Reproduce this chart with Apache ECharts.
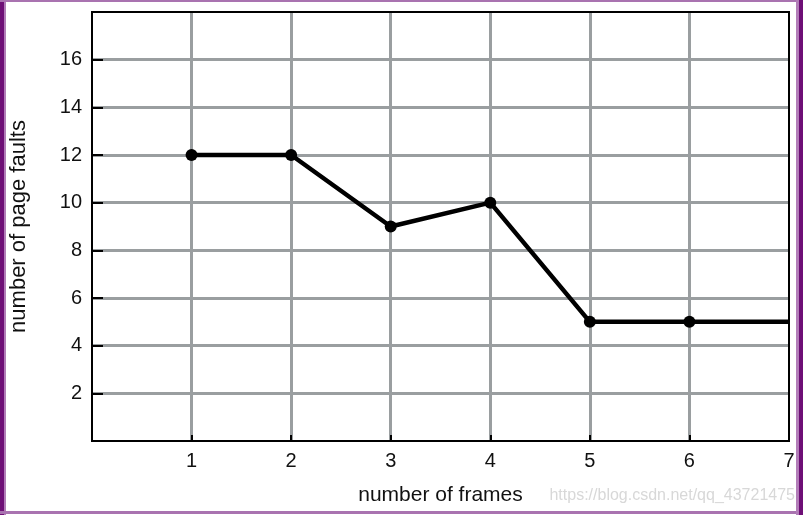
<!DOCTYPE html>
<html>
<head>
<meta charset="utf-8">
<script src="https://cdn.jsdelivr.net/npm/echarts@6/dist/echarts.min.js"></script>
<style>
html,body{margin:0;padding:0;background:#fff;}
#wrap{position:relative;width:803px;height:515px;overflow:hidden;background:#fff;}
#chart{position:absolute;left:0;top:0;width:803px;height:515px;}
.b{position:absolute;}
</style>
</head>
<body>
<div id="wrap">
<div id="chart"></div>
<div class="b" style="left:0;top:0;width:4px;height:515px;background:#6e0f76;"></div>
<div class="b" style="left:4px;top:0;width:2px;height:515px;background:#b27db8;"></div>
<div class="b" style="left:0;top:0;width:803px;height:2px;background:#a973b0;"></div>
<div class="b" style="left:0;top:511px;width:803px;height:3px;background:#a973b0;"></div>
<div class="b" style="left:796px;top:0;width:3px;height:515px;background:#b27db8;"></div>
<div class="b" style="left:799px;top:0;width:4px;height:515px;background:#6e0f76;"></div>
</div>
<script>
var frames = [1, 2, 3, 4, 5, 6, 7];
var pageFaults = [12, 12, 9, 10, 5, 5, 5];
var xTickLabels = ['1', '2', '3', '4', '5', '6', '7'];
var yTickLabels = ['2', '4', '6', '8', '10', '12', '14', '16'];
var xName = 'number of frames';
var yName = 'number of page faults';
var watermark = 'https://blog.csdn.net/qq_43721475';

var FONT = '"Liberation Sans", Arial, Helvetica, sans-serif';
var chart = echarts.init(document.getElementById('chart'), null, {renderer: 'canvas'});
var data = frames.map(function (f, i) { return [f, pageFaults[i]]; });
var gridColor = '#9a9ea0';

chart.setOption({
  animation: false,
  backgroundColor: '#fff',
  grid: {left: 91, right: 14, top: 12, bottom: 74, show: true, borderColor: '#000', borderWidth: 2, backgroundColor: 'transparent', z: 3},
  xAxis: {
    type: 'value', min: 0, max: 7, interval: 1,
    name: xName, nameLocation: 'middle', nameGap: 44,
    nameTextStyle: {color: '#111', fontSize: 21, fontFamily: FONT},
    axisLine: {show: true, lineStyle: {color: '#000', width: 2}},
    axisTick: {show: true, inside: true, length: 6, lineStyle: {color: '#000', width: 2}},
    axisLabel: {margin: 10, color: '#111', fontSize: 20, fontFamily: FONT,
      formatter: function (v) { var i = frames.indexOf(v); return i >= 0 ? xTickLabels[i] : ''; }},
    splitLine: {show: true, showMinLine: false, showMaxLine: false, lineStyle: {color: gridColor, width: 3}}
  },
  yAxis: {
    type: 'value', min: 0, max: 18, interval: 2,
    name: yName, nameLocation: 'middle', nameGap: 62, nameRotate: 90,
    nameTextStyle: {color: '#111', fontSize: 22, fontFamily: FONT},
    axisLine: {show: true, lineStyle: {color: '#000', width: 2}},
    axisTick: {show: true, inside: true, length: 11, lineStyle: {color: '#000', width: 2}},
    axisLabel: {margin: 10, color: '#111', fontSize: 20, fontFamily: FONT,
      formatter: function (v) { var i = yTickLabels.indexOf(String(v)); return i >= 0 ? yTickLabels[i] : ''; }},
    splitLine: {show: true, showMinLine: false, showMaxLine: false, lineStyle: {color: gridColor, width: 3}}
  },
  graphic: [{
    type: 'text', right: 8, top: 488, z: 10,
    style: {text: watermark, fill: '#d8d8d8', fontSize: 16, fontFamily: FONT}
  }],
  series: [{
    type: 'line', data: data, z: 5,
    symbol: 'circle',
    symbolSize: function (v, p) { return p.dataIndex === data.length - 1 ? 0 : 12; },
    itemStyle: {color: '#000'},
    lineStyle: {color: '#000', width: 4.5}
  }]
});
</script>
</body>
</html>
